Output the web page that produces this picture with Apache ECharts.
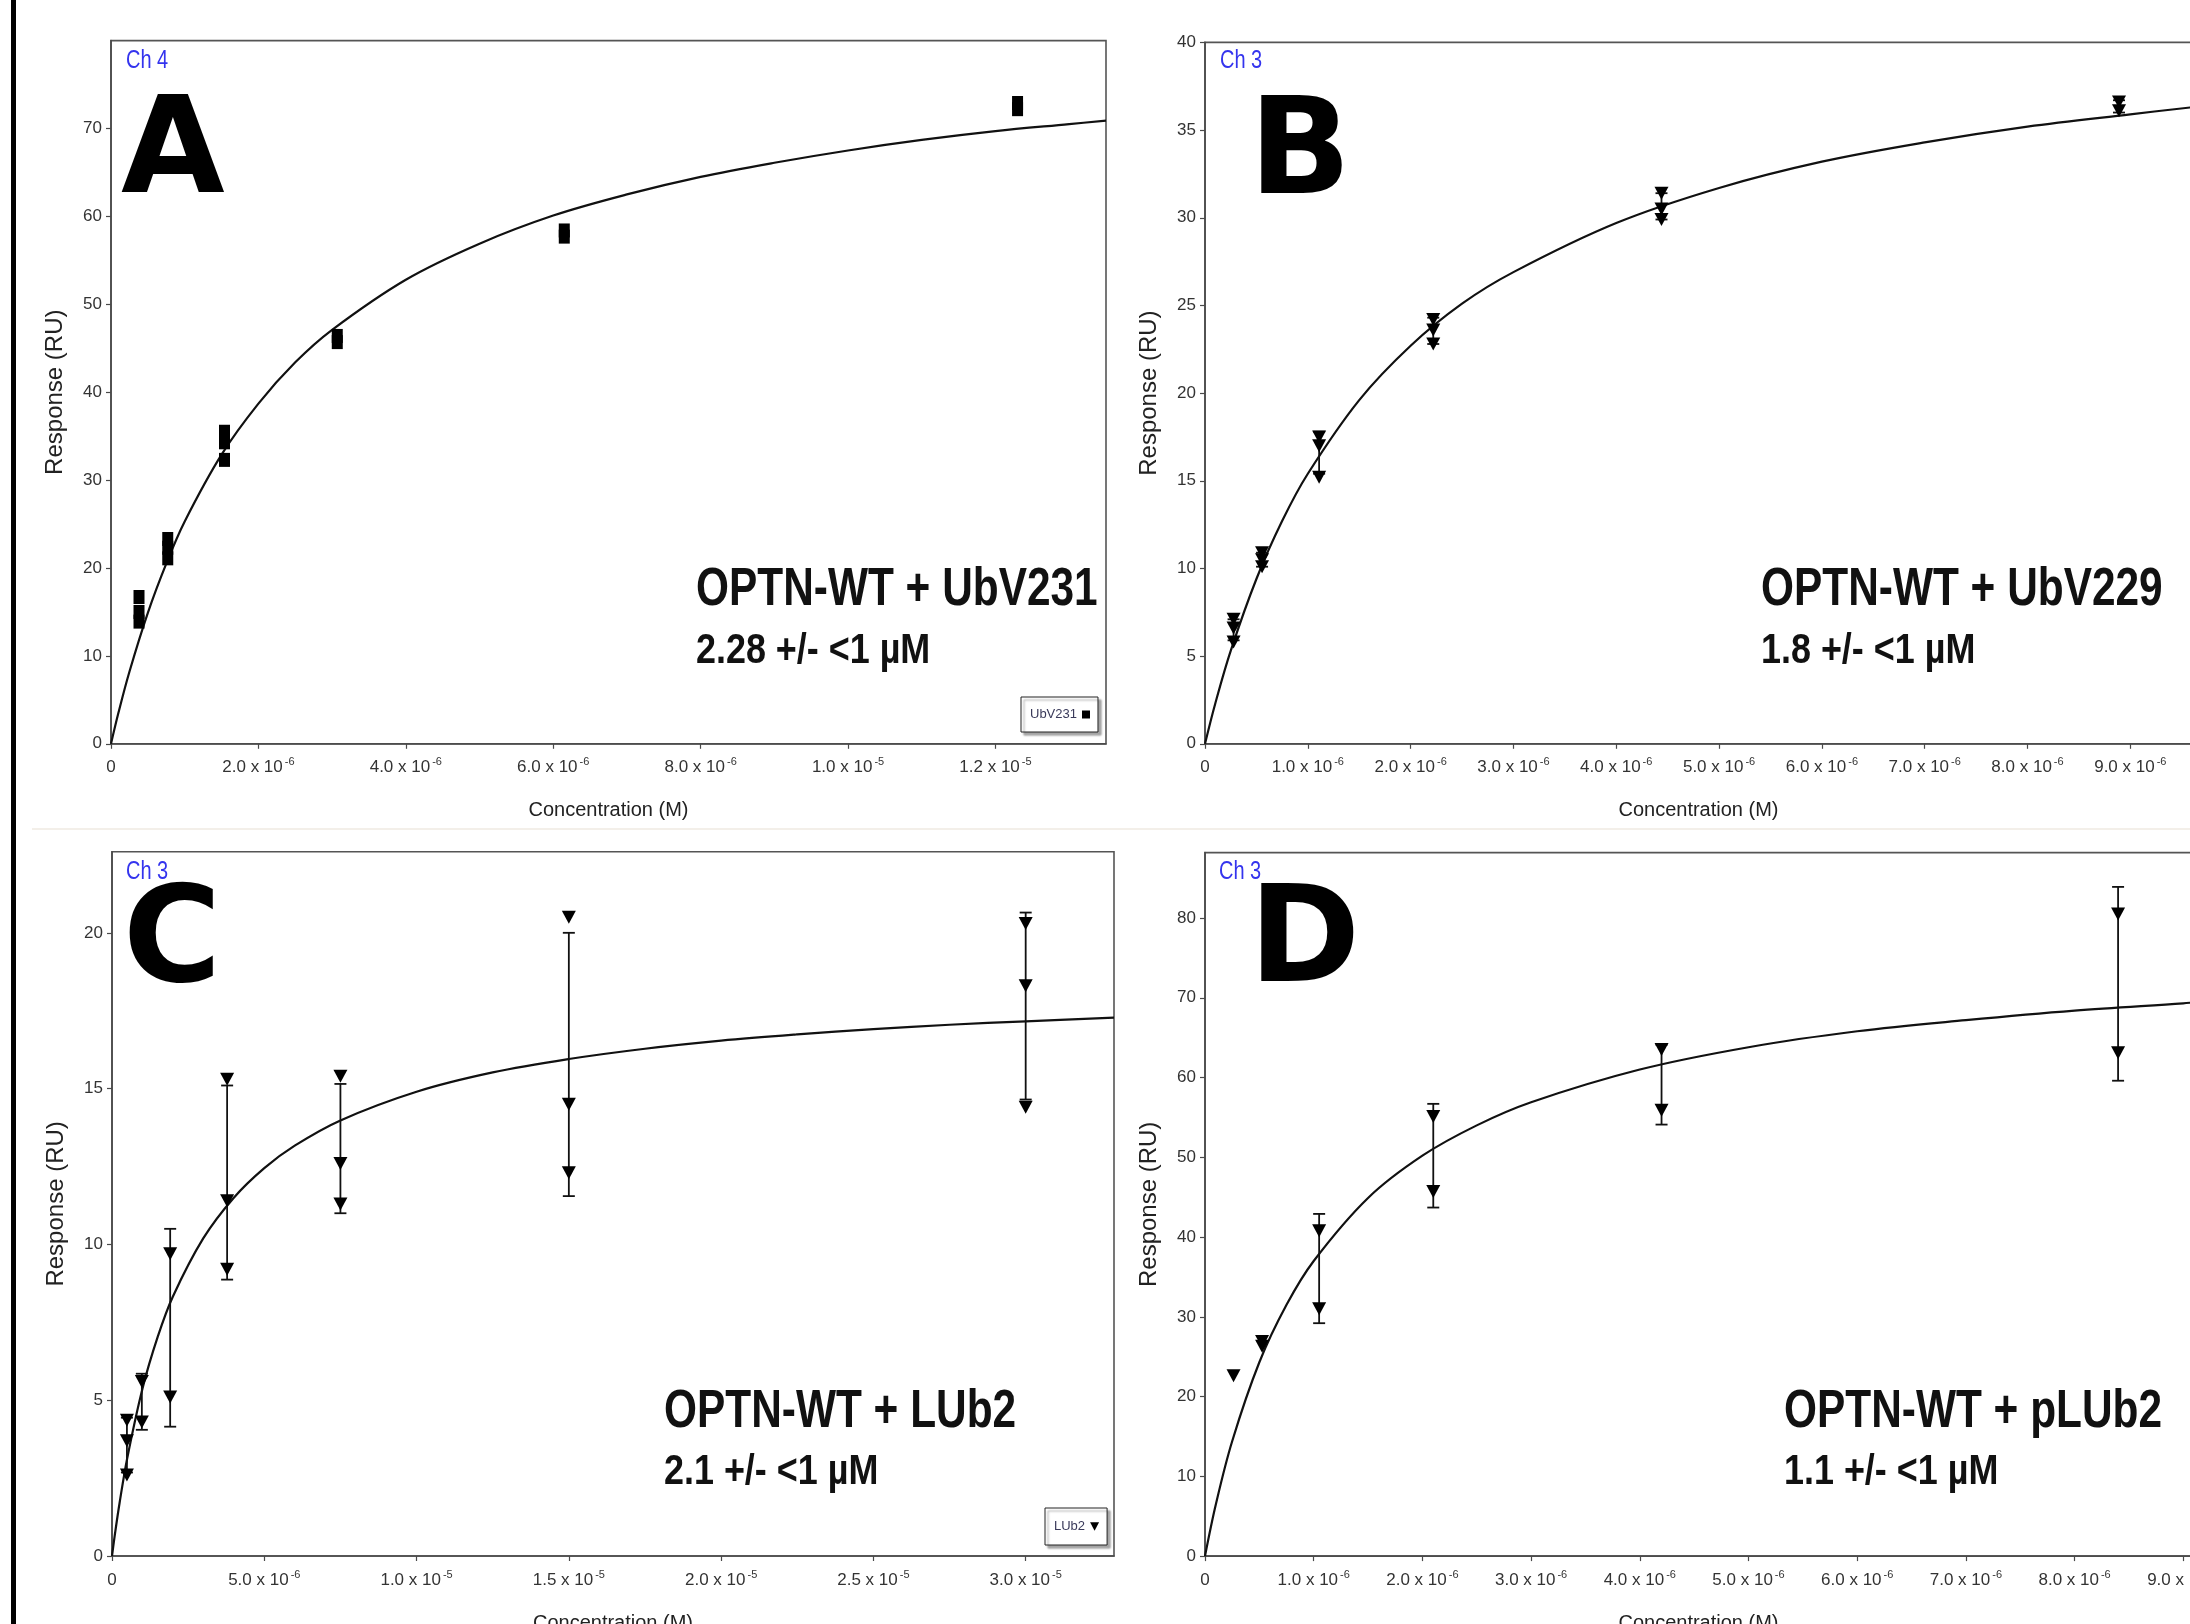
<!DOCTYPE html>
<html><head><meta charset="utf-8">
<script src="https://cdn.jsdelivr.net/npm/echarts@6/dist/echarts.min.js"></script>
<style>html,body{margin:0;padding:0;background:#fff}#c{width:2190px;height:1624px}</style>
</head><body><div id="c"></div><script>
// ---------- DATA (concentrations in µM, responses in RU) ----------
// Panel A : OPTN-WT + UbV231
const aConc = [0.38, 0.77, 1.54, 3.07, 6.15, 12.3];
const aResp = [[16.7, 15.0, 13.9], [23.3, 22.3, 21.1], [35.5, 34.3, 32.3], [46.4, 45.7], [58.4, 57.7], [72.9, 72.2]];
const aFitX = [0, 0.1, 0.25, 0.5, 0.75, 1, 1.5, 2, 2.5, 3, 4, 5, 6, 7, 8, 9, 10, 11, 12, 13, 13.5];
const aFitY = [0, 3.5, 8.2, 14.9, 20.5, 25.3, 32.9, 38.7, 43.4, 47.1, 52.8, 56.9, 60.1, 62.5, 64.5, 66.1, 67.5, 68.7, 69.7, 70.5, 70.9];
// Panel B : OPTN-WT + UbV229
const bConc = [0.278, 0.555, 1.11, 2.22, 4.44, 8.89];
const bResp = [[7.1, 6.6, 5.8], [10.9, 10.5, 10.1], [17.5, 17.0, 15.2], [24.2, 23.6, 22.8], [31.4, 30.5, 29.9], [36.6, 36.1]];
const bErrLo = [5.9, 10.1, 15.4, 22.8, 29.9, 36.0];
const bErrHi = [7.1, 10.9, 17.8, 24.3, 31.4, 36.7];
const bFitX = [0, 0.1, 0.25, 0.5, 0.75, 1, 1.5, 2, 2.5, 3, 4, 5, 6, 7, 8, 9, 9.6];
const bFitY = [0, 2.3, 5.3, 9.4, 12.7, 15.4, 19.6, 22.7, 25.1, 26.9, 29.7, 31.7, 33.2, 34.3, 35.2, 35.9, 36.3];
// Panel C : OPTN-WT + LUb2
const cConc = [0.49, 0.98, 1.91, 3.78, 7.5, 15, 30];
const cResp = [[4.36, 3.7, 2.6], [5.6, 4.3], [9.7, 5.1], [15.3, 11.4, 9.2], [15.4, 12.6, 11.3], [20.5, 14.5, 12.3], [20.3, 18.3, 14.4]];
const cErrLo = [2.68, 4.05, 4.15, 8.87, 11.0, 11.55, 14.65];
const cErrHi = [4.44, 5.85, 10.5, 15.1, 15.15, 20.0, 20.65];
const cFitX = [0, 0.1, 0.25, 0.5, 1, 1.5, 2, 3, 4, 5, 6, 7.5, 10, 12.5, 15, 17.5, 20, 22.5, 25, 27.5, 30, 32.9];
const cFitY = [0, 0.73, 1.71, 3.14, 5.37, 7.03, 8.33, 10.2, 11.5, 12.45, 13.17, 13.98, 14.9, 15.52, 15.95, 16.28, 16.54, 16.74, 16.91, 17.05, 17.16, 17.28];
// Panel D : OPTN-WT + pLUb2
const dConc = [0.2625, 0.525, 1.05, 2.1, 4.2, 8.4];
const dResp = [[22.6], [26.9, 26.3], [40.8, 31.0], [55.1, 45.7], [63.5, 55.9], [80.5, 63.1]];
const dErrConc = [1.05, 2.1, 4.2, 8.4];
const dErrLo = [29.2, 43.7, 54.1, 59.6];
const dErrHi = [42.9, 56.7, 64.1, 83.9];
const dFitX = [0, 0.1, 0.25, 0.5, 0.75, 1, 1.5, 2, 2.5, 3, 4, 5, 6, 7, 8, 9, 9.08];
const dFitY = [0, 6.5, 14.4, 24.3, 31.5, 37.0, 44.9, 50.2, 54.0, 56.9, 61.0, 63.8, 65.8, 67.2, 68.4, 69.3, 69.4];

// Axis ranges / ticks
const xMax = [13.5, 9.6, 32.9, 9.08];
const xStep = [2, 1, 5, 1];
const yMax = [80, 40, 22.6, 88.2];
const yStep = [10, 5, 5, 10];
const yShowMax = [false, true, false, false];

// Texts
const seriesNames = ['UbV231', 'UbV229', 'LUb2', 'pLUb2'];
const panelLetters = ['A', 'B', 'C', 'D'];
const channelTexts = ['Ch 4', 'Ch 3', 'Ch 3', 'Ch 3'];
const titleTexts = ['OPTN-WT + UbV231', 'OPTN-WT + UbV229', 'OPTN-WT + LUb2', 'OPTN-WT + pLUb2'];
const kdTexts = ['2.28 +/- <1 µM', '1.8 +/- <1 µM', '2.1 +/- <1 µM', '1.1 +/- <1 µM'];
const xTitle = 'Concentration (M)';
const yTitle = 'Response (RU)';

// ---------- LAYOUT ----------
const FONT = '"Liberation Sans", Arial, Helvetica, sans-serif';
const grids = [
  {left: 111, top: 40.6, width: 995, height: 703.2},
  {left: 1205, top: 42.4, width: 987, height: 701.4},
  {left: 112, top: 851.8, width: 1002, height: 704.2},
  {left: 1205, top: 852.6, width: 987, height: 703.5}
];
const letterPos = [[121, 157], [1249, 158], [123, 946], [1249, 946]];
const chPos = [[126, 61], [1220, 61], [126, 872], [1219, 872]];
const titlePos = [[696, 590], [1761, 590], [664, 1412], [1784, 1412]];
const kdPos = [[696, 651], [1761, 651], [664, 1472], [1784, 1472]];

const TRI = 'path://M0,0L20,0L10,19Z';
const AX = '#4a4a4a';

function sciLabel(v) {
  if (Math.abs(v) < 1e-12) return '{b|0}';
  const e = Math.floor(Math.log10(v) + 1e-9);
  const mant = (v / Math.pow(10, e)).toFixed(1);
  return '{b|' + mant + ' x 10}{s|' + (e - 6) + '}';
}

function xAxisCfg(i) {
  return {
    gridIndex: i, type: 'value', min: 0, max: xMax[i], interval: xStep[i],
    axisLine: {show: true, onZero: false, lineStyle: {color: AX, width: 1.6}},
    axisTick: {show: true, inside: false, length: 5, lineStyle: {color: AX, width: 1.2}},
    splitLine: {show: false},
    axisLabel: {
      show: true, margin: 13, showMaxLabel: false, showMinLabel: true, hideOverlap: false,
      formatter: sciLabel, color: '#333', fontFamily: FONT, fontSize: 17,
      rich: {
        b: {fontSize: 17, fontFamily: FONT, color: '#333', lineHeight: 22},
        s: {fontSize: 11, fontFamily: FONT, color: '#333', verticalAlign: 'top', padding: [0, 0, 0, 2]}
      }
    },
    name: xTitle, nameLocation: 'middle', nameGap: 57,
    nameTextStyle: {fontSize: 20, fontFamily: FONT, color: '#222'}
  };
}
function yAxisCfg(i) {
  return {
    gridIndex: i, type: 'value', min: 0, max: yMax[i], interval: yStep[i],
    axisLine: {show: true, onZero: false, lineStyle: {color: AX, width: 1.6}},
    axisTick: {show: true, inside: false, length: 5, lineStyle: {color: AX, width: 1.2}},
    splitLine: {show: false},
    axisLabel: {show: true, margin: 9, showMaxLabel: yShowMax[i], showMinLabel: true, hideOverlap: false,
      color: '#333', fontFamily: FONT, fontSize: 17},
    name: yTitle, nameLocation: 'middle', nameGap: 44, nameRotate: 90,
    nameTextStyle: {fontSize: 24, fontFamily: FONT, color: '#222'}
  };
}

function pts(conc, resp) {
  const out = [];
  conc.forEach((c, i) => resp[i].forEach(r => out.push([c, r])));
  return out;
}
function pairs(xs, ys) { return xs.map((x, j) => [x, ys[j]]); }

function scatterS(i, data, symbol, size) {
  return {type: 'scatter', name: seriesNames[i], xAxisIndex: i, yAxisIndex: i, data: data,
    symbol: symbol, symbolSize: size, itemStyle: {color: '#000', opacity: 1}, z: 5, silent: true};
}
function fitS(i, xs, ys) {
  return {type: 'line', name: 'fit' + i, xAxisIndex: i, yAxisIndex: i, data: pairs(xs, ys),
    showSymbol: false, symbol: 'none', smooth: 0.35,
    lineStyle: {color: '#111', width: 2.2}, z: 4, silent: true, clip: true};
}
function errS(i, xs, lo, hi) {
  return {
    type: 'custom', name: 'err' + i, xAxisIndex: i, yAxisIndex: i, silent: true, z: 3,
    data: xs.map((x, j) => [x, lo[j], hi[j]]),
    encode: {x: 0, y: [1, 2]},
    renderItem: function (params, api) {
      const p1 = api.coord([api.value(0), api.value(1)]);
      const p2 = api.coord([api.value(0), api.value(2)]);
      const w = 6;
      const st = {stroke: '#111', lineWidth: 1.8};
      return {type: 'group', children: [
        {type: 'line', shape: {x1: p1[0], y1: p1[1], x2: p2[0], y2: p2[1]}, style: st},
        {type: 'line', shape: {x1: p1[0] - w, y1: p1[1], x2: p1[0] + w, y2: p1[1]}, style: st},
        {type: 'line', shape: {x1: p2[0] - w, y1: p2[1], x2: p2[0] + w, y2: p2[1]}, style: st}
      ]};
    }
  };
}

const series = [
  fitS(0, aFitX, aFitY),
  scatterS(0, pts(aConc, aResp), 'rect', [11, 14]),
  errS(1, bConc, bErrLo, bErrHi),
  fitS(1, bFitX, bFitY),
  scatterS(1, pts(bConc, bResp), TRI, [14, 13]),
  errS(2, cConc, cErrLo, cErrHi),
  fitS(2, cFitX, cFitY),
  scatterS(2, pts(cConc, cResp), TRI, [14, 13]),
  errS(3, dErrConc, dErrLo, dErrHi),
  fitS(3, dFitX, dFitY),
  scatterS(3, pts(dConc, dResp), TRI, [14, 13])
];

function txt(t, x, y, font, fill, sx) {
  return {type: 'text', x: x, y: y, scaleX: sx || 1, scaleY: 1, z: 20, silent: true,
    style: {text: t, font: font, fill: fill, textAlign: 'left', align: 'left',
      textVerticalAlign: 'middle', verticalAlign: 'middle'}};
}
const graphics = [
  {type: 'rect', shape: {x: 11, y: 0, width: 5, height: 1624}, style: {fill: '#000'}, z: 30, silent: true},
  {type: 'line', shape: {x1: 32, y1: 829, x2: 2190, y2: 829}, style: {stroke: '#f3efe9', lineWidth: 2}, z: 0, silent: true}
];
for (let i = 0; i < 4; i++) {
  graphics.push(txt(panelLetters[i], letterPos[i][0], letterPos[i][1], 'bold 134px "DejaVu Sans", sans-serif', '#000', 1));
  graphics.push(txt(channelTexts[i], chPos[i][0], chPos[i][1], '25px ' + FONT, '#3434ee', 0.8));
  graphics.push(txt(titleTexts[i], titlePos[i][0], titlePos[i][1], 'bold 53px ' + FONT, '#111', 0.8));
  graphics.push(txt(kdTexts[i], kdPos[i][0], kdPos[i][1], 'bold 42px ' + FONT, '#111', 0.855));
}

const legendBase = {
  orient: 'horizontal', align: 'right', itemGap: 0, selectedMode: false,
  backgroundColor: '#fff', borderColor: '#222', borderWidth: 1,
  shadowColor: 'rgba(0,0,0,0.35)', shadowBlur: 2, shadowOffsetX: 3, shadowOffsetY: 3,
  textStyle: {fontSize: 13, color: '#3a3a5a', fontFamily: FONT}
};

const option = {
  animation: false,
  backgroundColor: '#ffffff',
  textStyle: {fontFamily: FONT},
  grid: grids.map(g => Object.assign({show: true, borderColor: '#555', borderWidth: 1.6,
    backgroundColor: '#fff', containLabel: false, outerBoundsMode: 'none'}, g)),
  xAxis: [0, 1, 2, 3].map(xAxisCfg),
  yAxis: [0, 1, 2, 3].map(yAxisCfg),
  legend: [
    Object.assign({}, legendBase, {data: [{name: 'UbV231', icon: 'rect'}], left: 1021, top: 697,
      itemWidth: 8, itemHeight: 8, padding: [11, 8, 11, 9]}),
    Object.assign({}, legendBase, {data: [{name: 'LUb2', icon: TRI}], left: 1045, top: 1508,
      itemWidth: 9, itemHeight: 9, padding: [12, 8, 12, 9]})
  ],
  series: series,
  graphic: graphics
};

const chart = echarts.init(document.getElementById('c'), null, {renderer: 'canvas', width: 2190, height: 1624});
chart.setOption(option);
</script></body></html>
